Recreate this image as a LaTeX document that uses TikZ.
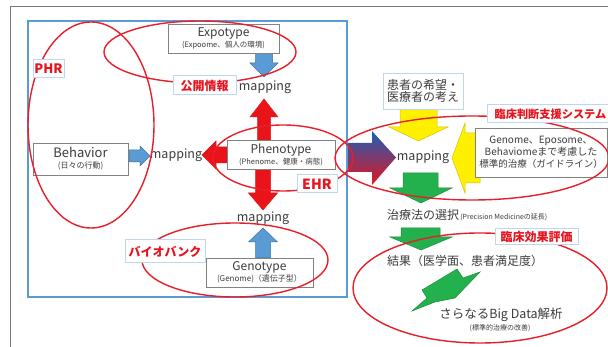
\documentclass[tikz,border=0pt]{standalone}
\usepackage{fontspec}
\setmainfont{Noto Sans CJK JP}
\definecolor{framegray}{RGB}{120,120,120}
\definecolor{frameblue}{RGB}{91,155,213}
\definecolor{ellred}{RGB}{232,30,40}
\definecolor{lblblue}{RGB}{189,215,238}
\definecolor{boxgray}{RGB}{130,130,130}
\definecolor{txt}{RGB}{60,60,60}
\definecolor{redtxt}{RGB}{230,20,30}
\definecolor{ablue}{RGB}{91,155,213}
\definecolor{ablueb}{RGB}{65,113,156}
\definecolor{ared}{RGB}{232,20,25}
\definecolor{ayel}{RGB}{255,240,0}
\definecolor{ayelb}{RGB}{210,195,0}
\definecolor{agreen}{RGB}{34,177,76}
\definecolor{agreenb}{RGB}{30,140,60}
\definecolor{gblue}{RGB}{25,95,185}
\definecolor{gmid}{RGB}{110,50,120}
\definecolor{gred}{RGB}{228,20,30}
\newcommand{\fsz}[2]{\fontsize{#1}{#2}\selectfont}
\tikzset{
  graybox/.style={draw=boxgray, fill=white, line width=0.8pt, align=center, inner sep=1pt, text=txt},
  lblbox/.style={draw=lblblue, fill=white, line width=1pt, inner sep=1pt, text=redtxt, font=\bfseries},
  ell/.style={draw=ellred, line width=1.4pt},
  bluearrow/.style={fill=ablue, draw=ablueb, line width=0.5pt},
  redarrow/.style={fill=ared, draw=ared, line width=0.5pt},
  yelarrow/.style={fill=ayel, draw=ayelb, line width=0.5pt},
  grnarrow/.style={fill=agreen, draw=agreenb, line width=0.5pt},
  maptext/.style={text=txt, inner sep=0pt, font=\fsz{12.5}{14}},
  plaintext/.style={text=txt, inner sep=0pt, align=center}
}
\begin{document}
\begin{tikzpicture}[x=1pt,y=-1pt]
\useasboundingbox (0,0) rectangle (608,347);
\fill[white] (0,0) rectangle (608,347);
% frames
\draw[framegray, line width=1pt] (10,350) -- (10,7) -- (612,7);
\draw[frameblue, line width=1.5pt] (28,21) rectangle (347,297);

% block arrows
\draw[bluearrow] (255.5,53) -- (272.5,53) -- (272.5,63) -- (278,63) -- (264,77) -- (250,63) -- (255.5,63) -- cycle;
\draw[redarrow] (257.5,140) -- (270.5,140) -- (270.5,117) -- (278,117) -- (264,99) -- (250,117) -- (257.5,117) -- cycle;
\draw[bluearrow] (129,150) -- (140,150) -- (140,146) -- (150,156) -- (140,166) -- (140,162) -- (129,162) -- cycle;
\draw[redarrow] (228,147) -- (216,147) -- (216,141) -- (202,155) -- (216,169) -- (216,163) -- (228,163) -- cycle;
\draw[redarrow] (255.5,169) -- (270.5,169) -- (270.5,193) -- (277.5,193) -- (263,210) -- (248.5,193) -- (255.5,193) -- cycle;
\draw[bluearrow] (255.5,258) -- (270.5,258) -- (270.5,242) -- (277.5,242) -- (263,228) -- (248.5,242) -- (255.5,242) -- cycle;
\draw[yelarrow] (400,109) -- (437,109) -- (437,127) -- (448,127) -- (418.5,141) -- (389,127) -- (400,127) -- cycle;
\shade[top color=gblue, middle color=gmid, bottom color=gred] (348,143) -- (372,143) -- (372,131) -- (396,157.5) -- (372,185) -- (372,172) -- (348,172) -- cycle;
\draw[yelarrow] (452,158) -- (465,123) -- (465,133) -- (480,133) -- (480,183) -- (465,183) -- (465,193) -- cycle;
\draw[grnarrow] (403,173) -- (438,173) -- (438,188) -- (452,188) -- (421,203) -- (390,188) -- (403,188) -- cycle;
\draw[grnarrow] (401,228) -- (440,228) -- (440,237) -- (452,237) -- (421,250) -- (390,237) -- (401,237) -- cycle;
\draw[grnarrow] (422,290) -- (457,269) -- (463,278) -- (480,272) -- (455,298) -- (435,302) -- (412,311) -- (427,298) -- cycle;

% gray boxes
\node[graybox, minimum width=111pt, minimum height=29pt] (expo) at (223.5,38.5)
  {{\fsz{12}{13}Expotype}\\[-1pt]{\fsz{7.5}{9}(Expoome、個人の環境)}};
\node[graybox, minimum width=95pt, minimum height=32pt] (behav) at (80.5,159)
  {{\fsz{13}{14}Behavior}\\[-1pt]{\fsz{8}{9}(日々の行動)}};
\node[graybox, minimum width=108pt, minimum height=29pt] (pheno) at (281,154.5)
  {{\fsz{12}{13}Phenotype}\\[-1pt]{\fsz{7.5}{9}(Phenome、健康・病態)}};
\node[graybox, minimum width=107pt, minimum height=29pt] (geno) at (259.5,272.5)
  {{\fsz{12}{13}Genotype}\\[-1pt]{\fsz{8}{9}(Genome)（遺伝子型）}};
\node[graybox, minimum width=132pt, minimum height=49pt] (genome) at (541,152.5)
  {\fsz{10}{13}Genome、Eposome、\\ \fsz{10}{13}Behaviomeまで考慮した\\ \fsz{9.5}{13}標準的治療（ガイドライン）};
\node[graybox, draw=lblblue, minimum width=80pt, minimum height=36pt] (kanja) at (423,91)
  {\fsz{12}{16}患者の希望・\\ \fsz{12}{16}医療者の考え};

% mapping texts
\node[maptext] (mapT) at (265,87) {mapping};
\node[maptext] (mapL) at (176,155) {mapping};
\node[maptext] (mapB) at (263,218) {mapping};
\node[maptext] (mapR) at (423,157) {mapping};

% ellipses
\draw[ell] (200,52) ellipse [x radius=96, y radius=31];
\draw[ell] (91,125) ellipse [x radius=63, y radius=103];
\draw[ell] (283,158) ellipse [x radius=70, y radius=33];
\draw[ell] (235,260) ellipse [x radius=93, y radius=37];
\draw[ell] (472,158) ellipse [x radius=137, y radius=42];
\draw[ell] (480,288) ellipse [x radius=127, y radius=55];

% red labels
\node[lblbox, minimum width=63pt, minimum height=19pt, font=\bfseries\fsz{12}{13}] (lpub) at (204.5,85.5) {公開情報};
\node[lblbox, minimum width=31pt, minimum height=18pt, font=\bfseries\fsz{13}{14}] (lphr) at (48.5,69) {PHR};
\node[lblbox, minimum width=40pt, minimum height=18pt, font=\bfseries\fsz{14}{15}] (lehr) at (317,184) {EHR};
\node[lblbox, minimum width=128pt, minimum height=18pt] (lcds) at (551,114) {};
\node[text=redtxt, font=\bfseries\fsz{11.2}{12}, inner sep=0pt, anchor=east] (lcdst) at (606.5,114) {臨床判断支援システム};
\node[lblbox, minimum width=80pt, minimum height=23pt, font=\bfseries\fsz{12}{13}] (lbio) at (165,251.5) {バイオバンク};
\node[lblbox, minimum width=83pt, minimum height=16pt, font=\bfseries\fsz{12}{13}] (lcef) at (536.5,237) {臨床効果評価};

% plain texts
\node[plaintext, anchor=west] (choice) at (387,215) {{\fsz{12}{13}治療法の選択}{\fsz{7}{8}\,(Precision Medicineの延長)}};
\node[plaintext, anchor=west] (result) at (387,261) {\fsz{12}{13}結果（医学面、患者満足度）};
\node[plaintext] (bigdata) at (501,315) {\fsz{12.5}{14}さらなるBig Data解析};
\node[plaintext] (improve) at (500,328) {\fsz{7}{8}(標準的治療の改善)};
\end{tikzpicture}
\end{document}
